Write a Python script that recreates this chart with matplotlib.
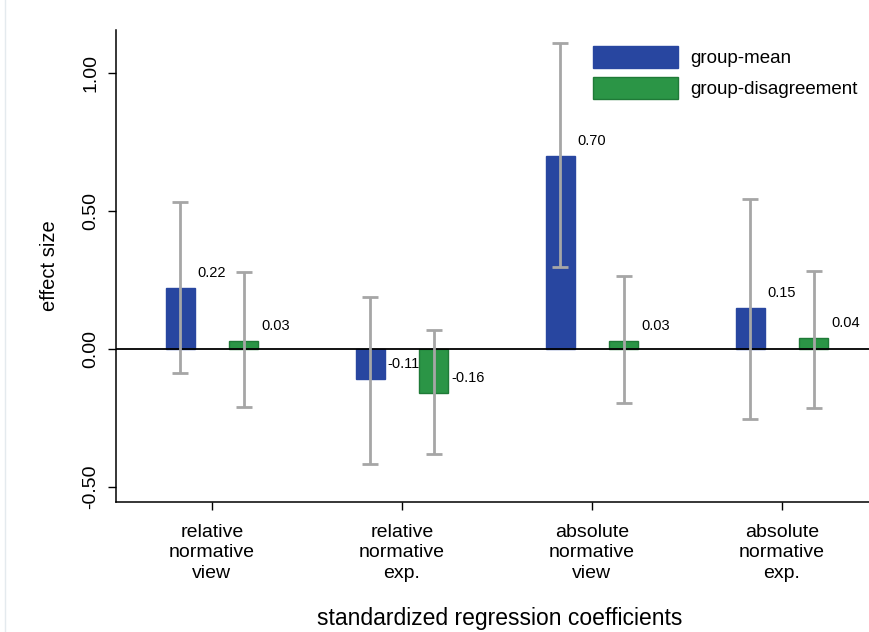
import numpy as np
import matplotlib.pyplot as plt
from matplotlib.lines import Line2D

plt.rcParams['font.family'] = ['Liberation Sans', 'DejaVu Sans']

categories = ['relative\nnormative\nview', 'relative\nnormative\nexp.',
              'absolute\nnormative\nview', 'absolute\nnormative\nexp.']
series_names = ['group-mean', 'group-disagreement']

mean_vals = [0.22, -0.11, 0.70, 0.15]
mean_lo = [-0.087, -0.417, 0.297, -0.254]
mean_hi = [0.533, 0.187, 1.109, 0.545]

dis_vals = [0.03, -0.16, 0.03, 0.04]
dis_lo = [-0.21, -0.380, -0.196, -0.214]
dis_hi = [0.279, 0.069, 0.264, 0.284]

yticks = [-0.5, 0.0, 0.5, 1.0]

blue = '#2846a0'
green = '#2b9546'
green_edge = '#1f7a37'
grey = '#a6a6a6'

fig = plt.figure(figsize=(8.69, 6.32), dpi=100)
ax = fig.add_axes([0.1335, 0.2057, 0.8665, 0.7468])

x = np.arange(len(categories))
off = 0.168
w = 0.153

series = [
    (mean_vals, mean_lo, mean_hi, blue, blue),
    (dis_vals, dis_lo, dis_hi, green, green_edge),
]
for k, (vals, lo, hi, col, ec) in enumerate(series):
    pos = x + (-off if k == 0 else off)
    vals = np.array(vals)
    ax.bar(pos, vals, width=w, color=col, edgecolor=ec, linewidth=1,
           label=series_names[k], zorder=2)
    yerr = [vals - np.array(lo), np.array(hi) - vals]
    ax.errorbar(pos, vals, yerr=yerr, fmt='none', ecolor=grey, elinewidth=2,
                capsize=6, capthick=2, zorder=3)
    for p, v in zip(pos, vals):
        ax.text(p + w / 2 + 0.015, v + 0.055, '%.2f' % v, fontsize=10.5,
                ha='left', va='center', zorder=4)

ax.axhline(0, color='black', lw=1.3, zorder=2.5)

ax.set_xlim(-0.505, 3.458)
ax.set_ylim(-0.554, 1.156)
ax.set_xticks(x)
ax.set_xticklabels(categories, fontsize=14, linespacing=1.25)
ax.set_yticks(yticks)
ax.set_yticklabels(['%.2f' % t for t in yticks], fontsize=14, rotation=90,
                   va='center')
ax.tick_params(axis='both', direction='out', length=6, width=1, pad=6)
ax.tick_params(axis='x', pad=10)

for s in ['top', 'right']:
    ax.spines[s].set_visible(False)
for s in ['left', 'bottom']:
    ax.spines[s].set_linewidth(1.1)

ax.set_ylabel('effect size', fontsize=14.5, labelpad=17)
ax.set_xlabel('standardized regression coefficients', fontsize=16.5)
ax.xaxis.set_label_coords(0.51, -0.2458)
ax.xaxis.label.set_va('center')

ax.legend(loc='upper left', bbox_to_anchor=(0.6335, 0.966), frameon=False,
          fontsize=13.5, handlelength=4.53, handleheight=1.4,
          labelspacing=0.5, handletextpad=0.65, borderpad=0,
          borderaxespad=0)

fig.add_artist(Line2D([0.006, 0.006], [0.0, 1.0], color='#e4eaee', lw=1,
                      transform=fig.transFigure))

fig.savefig('out.png', dpi=100)
